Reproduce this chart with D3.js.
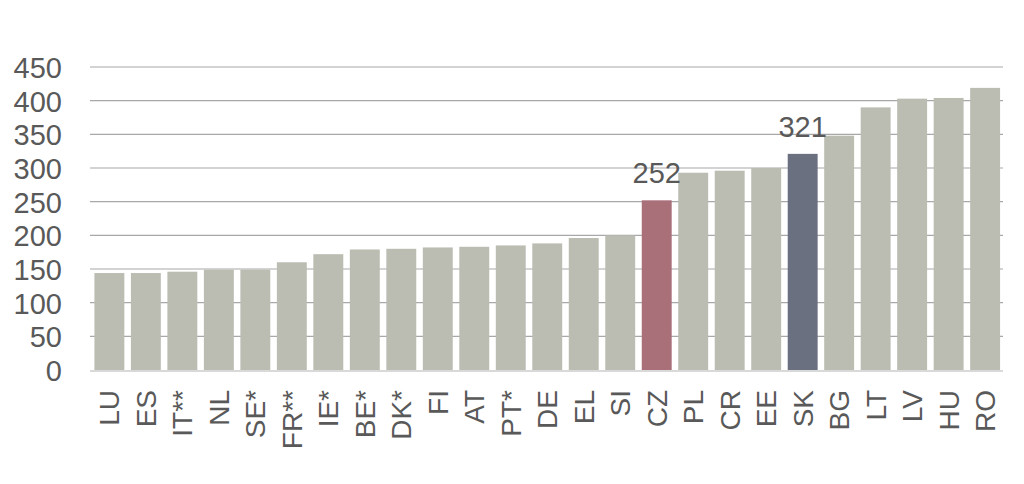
<!DOCTYPE html>
<html>
<head>
<meta charset="utf-8">
<script src="https://cdn.jsdelivr.net/npm/d3@7/dist/d3.min.js"></script>
<style>
  html, body { margin: 0; padding: 0; background: #ffffff; }
  svg { display: block; }
</style>
</head>
<body>
<svg id="chart" width="1024" height="484"></svg>
<script>
const categories = ["LU","ES","IT**","NL","SE*","FR**","IE*","BE*","DK*","FI","AT","PT*","DE","EL","SI","CZ","PL","CR","EE","SK","BG","LT","LV","HU","RO"];
const values = [144,144,146,149,149,160,172,179,180,182,183,185,188,196,200,252,293,296,300,321,348,390,403,404,419];
const yTicks = [0,50,100,150,200,250,300,350,400,450];
const highlighted = {"CZ": "#a9707a", "SK": "#6a707f"};
const labelled = ["CZ","SK"];

const svg = d3.select("#chart");
const plotLeft = 90, plotRight = 1003, plotTop = 67, plotBottom = 370;

const x = d3.scaleBand().domain(categories).range([91.5, 1003]).paddingInner(0.18).paddingOuter(0.08);
const y = d3.scaleLinear().domain([0, 450]).range([plotBottom, plotTop]);

const font = "'Liberation Sans', Arial, sans-serif";
const textColor = "#595959";

// gridlines
svg.append("g").selectAll("line").data(yTicks.filter(d => d > 0)).join("line")
  .attr("x1", plotLeft).attr("x2", plotRight)
  .attr("y1", d => y(d)).attr("y2", d => y(d))
  .attr("stroke", "#a8a8a8").attr("stroke-width", 1.2);

// y axis labels
const yAxis = d3.axisLeft(y).tickValues(yTicks).tickSize(0).tickPadding(0);
const gy = svg.append("g").attr("transform", "translate(62,0)").call(yAxis);
gy.select(".domain").remove();
gy.selectAll("text").attr("font-family", font).attr("font-size", 29).attr("fill", textColor).attr("dy", "0.36em");

// bars
const data = categories.map((c, i) => ({c, v: values[i]}));
svg.append("g").selectAll("rect").data(data).join("rect")
  .attr("x", d => x(d.c)).attr("width", x.bandwidth())
  .attr("y", d => y(d.v)).attr("height", d => y(0) - y(d.v))
  .attr("fill", d => highlighted[d.c] || "#bbbcb2");

// baseline
svg.append("line").attr("x1", plotLeft).attr("x2", plotRight)
  .attr("y1", y(0) + 1).attr("y2", y(0) + 1)
  .attr("stroke", "#d9d9d9").attr("stroke-width", 2);

// value labels
svg.append("g").selectAll("text").data(data.filter(d => labelled.includes(d.c))).join("text")
  .attr("x", d => x(d.c) + x.bandwidth() / 2)
  .attr("y", d => y(d.v) - 17)
  .attr("text-anchor", "middle")
  .attr("font-family", font).attr("font-size", 29).attr("fill", textColor)
  .text(d => d.v);

// x axis labels (rotated)
const xAxis = d3.axisBottom(x).tickSize(0).tickPadding(0);
const gx = svg.append("g").attr("transform", `translate(0,${plotBottom})`).call(xAxis);
gx.select(".domain").remove();
gx.selectAll("text")
  .attr("font-family", font).attr("font-size", 28).attr("fill", textColor)
  .attr("text-anchor", "end")
  .attr("transform", "rotate(-90)")
  .attr("x", -20).attr("y", 0).attr("dy", "0.36em");
</script>
</body>
</html>
